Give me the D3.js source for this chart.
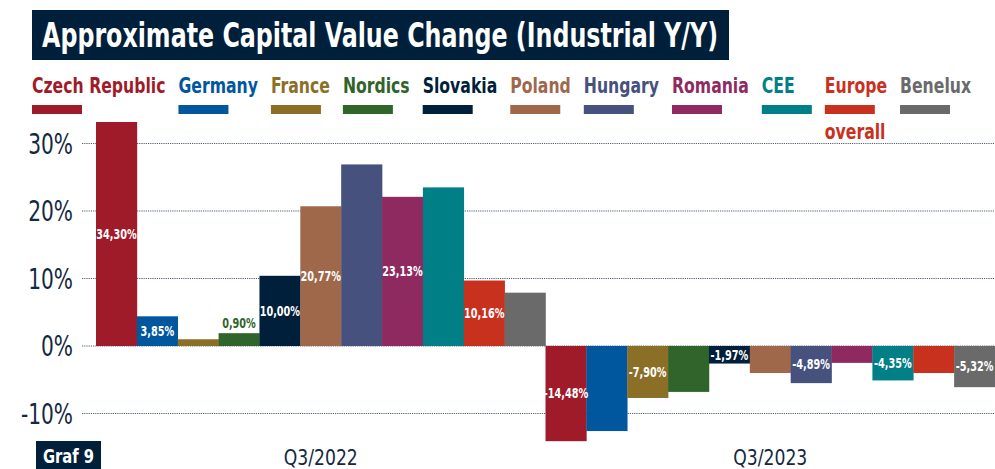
<!DOCTYPE html>
<html>
<head>
<meta charset="utf-8">
<script src="https://cdn.jsdelivr.net/npm/d3@7"></script>
<style>
  body { margin: 0; background: #fff; }
  svg { display: block; font-family: "Liberation Sans Narrow", "DejaVu Sans Condensed", sans-serif; }
</style>
</head>
<body>
<svg width="995" height="469"></svg>
<script>
// data
const quarters = ["Q3/2022", "Q3/2023"];
const countries = ["Czech Republic", "Germany", "France", "Nordics", "Slovakia", "Poland",
                   "Hungary", "Romania", "CEE", "Europe overall", "Benelux"];
const colors = ["#a01b2a", "#00579e", "#8b6f26", "#31642b", "#001f3a", "#a0684a",
                "#46517e", "#8e2a60", "#007f87", "#c9311f", "#6a6a6a"];
const values2022 = [34.3, 4.4, 1.0, 1.9, 10.4, 20.7, 26.9, 22.1, 23.5, 9.7, 7.9];
const values2023 = [-14.1, -12.6, -7.7, -6.8, -2.6, -4.0, -5.5, -2.5, -5.1, -4.0, -6.1];
// printed value labels (null = no label on that bar)
const labels2022 = ["34,30%", "3,85%", null, "0,90%", "10,00%", "20,77%", null, "23,13%", null, "10,16%", null];
const labels2023 = ["-14,48%", null, "-7,90%", null, "-1,97%", null, "-4,89%", null, "-4,35%", null, "-5,32%"];
const yTicks = [-10, 0, 10, 20, 30];

const navy = "#001f3a";
const svg = d3.select("svg");

// squeeze text horizontally around its x anchor to mimic the condensed font of the original
function squeeze(sel, f) {
  sel.each(function() {
    let x = +this.getAttribute("x") || 0;
    d3.select(this).attr("transform", `translate(${x * (1 - f)},0) scale(${f},1)`);
  });
}

let rows = [];
quarters.forEach((q, qi) => {
  let vals = qi === 0 ? values2022 : values2023;
  let labs = qi === 0 ? labels2022 : labels2023;
  countries.forEach((c, i) => rows.push({quarter: q, country: c, value: vals[i], label: labs[i], color: colors[i]}));
});

// title
svg.append("rect")
   .attr("x", 32).attr("y", 10)
   .attr("width", 697).attr("height", 50)
   .attr("fill", navy);
svg.append("text")
   .attr("x", 42).attr("y", 47)
   .attr("fill", "#fff")
   .style("font-size", "33px")
   .style("font-weight", "bold")
   .attr("textLength", 676)
   .attr("lengthAdjust", "spacingAndGlyphs")
   .text("Approximate Capital Value Change (Industrial Y/Y)");

// scales
let x0 = d3.scaleBand().domain(quarters).range([96, 995]).padding(0);
let x1 = d3.scaleBand().domain(countries).range([0, x0.bandwidth()]).padding(0);
let y = d3.scaleLinear().domain([-10, 30]).range([413.5, 143.5]);

// gridlines
svg.append("g")
   .selectAll("line")
   .data(yTicks)
   .join("line")
     .attr("x1", 82).attr("x2", 995)
     .attr("y1", d => y(d)).attr("y2", d => y(d))
     .attr("stroke", "#4f6077")
     .attr("stroke-width", 1)
     .attr("stroke-dasharray", "1.2,1");

// y axis labels
svg.append("g")
   .selectAll("text")
   .data(yTicks)
   .join("text")
     .attr("x", 73)
     .attr("y", d => y(d))
     .attr("dy", "0.36em")
     .attr("text-anchor", "end")
     .attr("fill", "#14283f")
     .style("font-size", "28px")
     .text(d => d + "%")
     .call(squeeze, 0.8);

// clip for the plot area (top bar is cut off)
svg.append("clipPath").attr("id", "plot")
   .append("rect").attr("x", 0).attr("y", 122).attr("width", 995).attr("height", 347);

let bars = svg.append("g").attr("clip-path", "url(#plot)");
bars.selectAll("rect")
    .data(rows)
    .join("rect")
      .attr("x", d => x0(d.quarter) + x1(d.country))
      .attr("width", x1.bandwidth() + 0.3)
      .attr("y", d => y(Math.max(0, d.value)))
      .attr("height", d => Math.abs(y(d.value) - y(0)))
      .attr("fill", d => d.color);

// value labels: centred in the bar, or just above when the bar is too short
const minInside = 15;
svg.append("g")
   .selectAll("text")
   .data(rows.filter(d => d.label))
   .join("text")
     .attr("x", d => x0(d.quarter) + x1(d.country) + x1.bandwidth() / 2)
     .attr("y", d => {
       let top = Math.max(y(Math.max(0, d.value)), 122);
       let bot = y(Math.min(0, d.value));
       if (bot - top < minInside) return top - 10;
       return (top + bot) / 2;
     })
     .attr("dy", "0.36em")
     .attr("text-anchor", "middle")
     .attr("fill", d => Math.abs(y(0) - y(d.value)) < minInside && d.value > 0 ? d.color : "#fff")
     .style("font-size", "13.5px")
     .style("font-weight", "bold")
     .text(d => d.label)
     .call(squeeze, 0.8);

// x axis labels
svg.append("g")
   .selectAll("text")
   .data(quarters)
   .join("text")
     .attr("x", d => x0(d) + x0.bandwidth() / 2)
     .attr("y", 465)
     .attr("text-anchor", "middle")
     .attr("fill", "#14283f")
     .style("font-size", "22px")
     .text(d => d)
     .call(squeeze, 0.87);

// legend
let legend = svg.append("g");
let lx = 32;
countries.forEach((c, i) => {
  let g = legend.append("g").attr("transform", `translate(${lx},0)`);
  let words = c === "Europe overall" ? ["Europe", "overall"] : [c];
  let w = 0;
  words.forEach((word, wi) => {
    let t = g.append("text")
      .attr("x", 0)
      .attr("y", wi === 0 ? 93 : 139)
      .attr("fill", colors[i])
      .style("font-size", "21px")
      .style("font-weight", "bold")
      .text(word)
      .call(squeeze, 0.83);
    if (wi === 0) w = t.node().getComputedTextLength() * 0.83;
  });
  g.append("rect")
   .attr("x", 0).attr("y", 105)
   .attr("width", 50).attr("height", 9)
   .attr("fill", colors[i]);
  lx += Math.max(w, 50) + 13;
});

// Graf 9 tag
svg.append("rect")
   .attr("x", 36).attr("y", 441)
   .attr("width", 65).attr("height", 28)
   .attr("fill", navy);
svg.append("text")
   .attr("x", 68.5).attr("y", 463)
   .attr("text-anchor", "middle")
   .attr("fill", "#fff")
   .style("font-size", "20px")
   .style("font-weight", "bold")
   .text("Graf 9")
   .call(squeeze, 0.82);
</script>
</body>
</html>
